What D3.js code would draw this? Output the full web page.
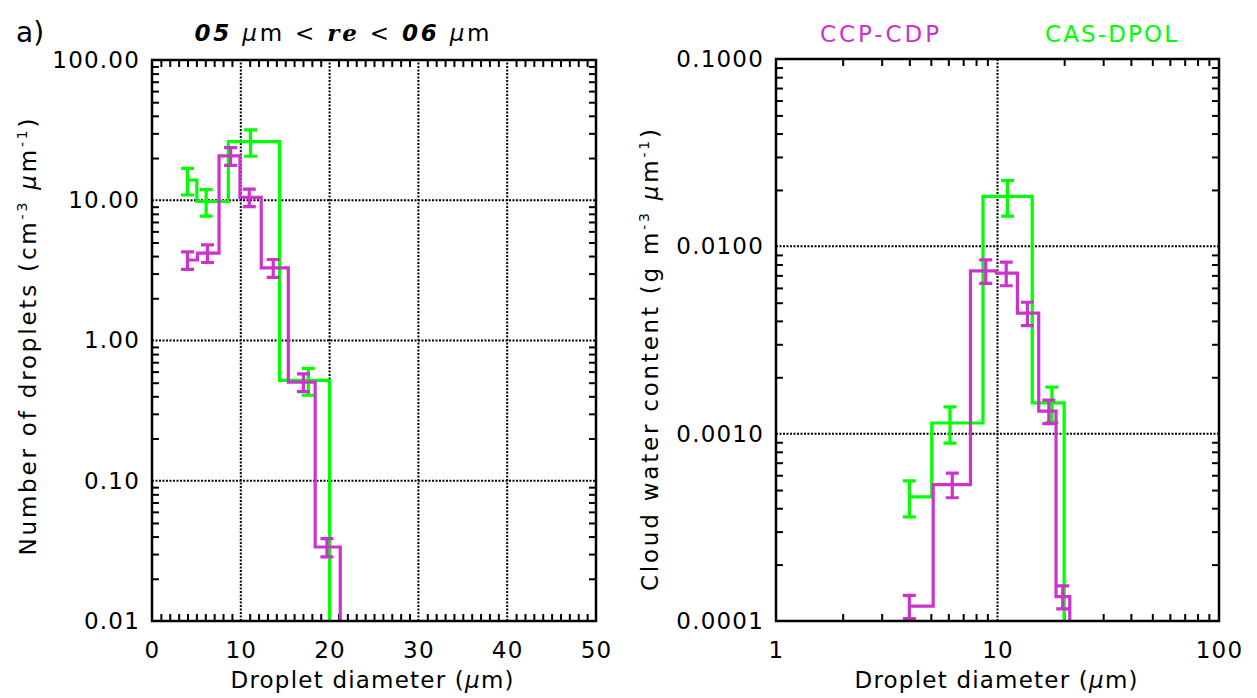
<!DOCTYPE html>
<html><head><meta charset="utf-8">
<script src="https://cdn.jsdelivr.net/npm/d3@7"></script>
<style>
html,body{margin:0;padding:0;background:#fff;}
text{font-family:"DejaVu Sans",sans-serif;fill:#000;}
</style></head>
<body><svg id="c" width="1257" height="698"></svg>
<script>
// ---------- data ----------
// CCP-CDP (magenta)
const cdpDiam = [4.0, 6.25, 8.85, 10.95, 13.65, 17.05, 19.7, 22.7];
const cdpN    = [3.75, 4.2, 20.7, 10.5, 3.3, 0.505, 0.0337, 0];
const cdpNerr = [0.54, 0.6, 3.0, 1.5, 0.48, 0.073, 0.005, 0];
const cdpLwc    = [1.2e-4, 5.35e-4, 7.4e-3, 7.2e-3, 4.4e-3, 1.32e-3, 1.35e-4, 0];
const cdpLwcErr = [0.17e-4, 0.8e-4, 1.06e-3, 1.04e-3, 0.63e-3, 0.19e-3, 0.19e-4, 0];
// CAS-DPOL (green)
const casDiam = [4.0, 6.1, 11.1, 17.6, 22.4];
const casN    = [13.9, 9.8, 26.2, 0.52, 0];
const casNerr = [3.0, 2.1, 5.6, 0.113, 0];
const casLwc    = [4.6e-4, 1.14e-3, 0.0185, 1.46e-3, 0];
const casLwcErr = [1.0e-4, 0.25e-3, 0.004, 0.31e-3, 0];

const leftYTicks = [0.01, 0.1, 1, 10, 100];
const leftXTicks = [0, 10, 20, 30, 40, 50];
const rightYTicks = [0.0001, 0.001, 0.01, 0.1];
const rightXTicks = [1, 10, 100];

const colCDP = "#cc33cc", colCAS = "#00ff00";

const svg = d3.select("#c");

function logMinor(lo, hi){
  const out=[];
  for(let e=Math.round(Math.log10(lo)); e<Math.round(Math.log10(hi)); e++){
    for(let k=2;k<=9;k++) out.push(k*Math.pow(10,e));
  }
  return out;
}

function panel(opt){
  const {x, y, id} = opt;
  const [x0,x1] = x.range(), [y0,y1] = y.range(); // y0 bottom
  const g = svg.append("g");
  g.append("clipPath").attr("id",id).append("rect")
    .attr("x",x0).attr("y",y1).attr("width",x1-x0).attr("height",y0-y1);
  // gridlines
  g.selectAll(".gx").data(opt.gridX).join("line")
    .attr("x1",d=>x(d)).attr("x2",d=>x(d)).attr("y1",y0).attr("y2",y1)
    .attr("stroke","#000").attr("stroke-width",2).attr("stroke-dasharray","2,1.5");
  g.selectAll(".gy").data(opt.gridY).join("line")
    .attr("y1",d=>y(d)).attr("y2",d=>y(d)).attr("x1",x0).attr("x2",x1)
    .attr("stroke","#000").attr("stroke-width",2).attr("stroke-dasharray","2,1.5");
  // minor ticks
  const tl = 7;
  const styleAx = a => { a.select(".domain").remove(); a.selectAll("line").attr("stroke","#000").attr("stroke-width",2); };
  g.append("g").attr("transform",`translate(0,${y0})`).call(d3.axisBottom(x).tickValues(opt.minorX).tickSize(-tl).tickFormat("")).call(styleAx);
  g.append("g").attr("transform",`translate(0,${y1})`).call(d3.axisTop(x).tickValues(opt.minorX).tickSize(-tl).tickFormat("")).call(styleAx);
  g.append("g").attr("transform",`translate(${x0},0)`).call(d3.axisLeft(y).tickValues(opt.minorY).tickSize(-tl).tickFormat("")).call(styleAx);
  g.append("g").attr("transform",`translate(${x1},0)`).call(d3.axisRight(y).tickValues(opt.minorY).tickSize(-tl).tickFormat("")).call(styleAx);
  // labels
  const lab = a => { a.select(".domain").remove(); a.selectAll("line").remove();
    a.selectAll("text").attr("font-size",23).attr("font-family","DejaVu Sans").attr("letter-spacing",1.2); };
  g.append("g").attr("transform",`translate(0,${y0})`).call(d3.axisBottom(x).tickValues(opt.xTicks).tickSize(0).tickPadding(21).tickFormat(opt.xFmt)).call(lab);
  g.append("g").attr("transform",`translate(${x0-12},0)`).call(d3.axisLeft(y).tickValues(opt.yTicks).tickSize(0).tickPadding(0).tickFormat(opt.yFmt)).call(lab);
  // series
  const plot = g.append("g").attr("clip-path",`url(#${id})`);
  const yp = v => v>0 ? y(v) : y0+20;
  opt.series.forEach(s=>{
    const pts=[[x(s.d[0]), yp(s.v[0])]];
    for(let i=0;i<s.d.length-1;i++){
      const m=(s.d[i]+s.d[i+1])/2;
      pts.push([x(m),yp(s.v[i])],[x(m),yp(s.v[i+1])]);
    }
    pts.push([x(s.d[s.d.length-1]), yp(s.v[s.v.length-1])]);
    plot.append("path").attr("d",d3.line()(pts)).attr("fill","none")
      .attr("stroke",s.c).attr("stroke-width",3.2).attr("stroke-linejoin","miter");
    const eb = s.d.map((d,i)=>({d,v:s.v[i],e:s.e[i]})).filter(o=>o.v>0);
    const cw=6.5;
    eb.forEach(o=>{
      const cx=x(o.d), ya=y(o.v+o.e), yb=y(o.v-o.e);
      plot.append("path").attr("d",`M${cx},${ya}V${yb}M${cx-cw},${ya}H${cx+cw}M${cx-cw},${yb}H${cx+cw}`)
        .attr("fill","none").attr("stroke",s.c).attr("stroke-width",3.2);
    });
  });
  // frame
  g.append("rect").attr("x",x0).attr("y",y1).attr("width",x1-x0).attr("height",y0-y1)
    .attr("fill","none").attr("stroke","#000").attr("stroke-width",2.5);
  return g;
}

// Left panel
const xL = d3.scaleLinear().domain([0,50]).range([152,596]);
const yL = d3.scaleLog().domain([0.01,100]).range([621,60]);
const minorXL = d3.range(1,50).filter(d=>d%10!==0);
panel({id:"clipL", x:xL, y:yL, gridX:[10,20,30,40], gridY:[0.1,1,10],
  minorX:minorXL, minorY:logMinor(0.01,100), xTicks:leftXTicks, yTicks:leftYTicks,
  xFmt:d3.format("d"), yFmt:d3.format(".2f"),
  series:[{d:casDiam,v:casN,e:casNerr,c:colCAS},{d:cdpDiam,v:cdpN,e:cdpNerr,c:colCDP}]});

// Right panel
const xR = d3.scaleLog().domain([1,100]).range([776,1219]);
const yR = d3.scaleLog().domain([0.0001,0.1]).range([621,59]);
panel({id:"clipR", x:xR, y:yR, gridX:[10], gridY:[0.001,0.01],
  minorX:logMinor(1,100), minorY:logMinor(0.0001,0.1), xTicks:rightXTicks, yTicks:rightYTicks,
  xFmt:d3.format("d"), yFmt:d3.format(".4f"),
  series:[{d:casDiam,v:casLwc,e:casLwcErr,c:colCAS},{d:cdpDiam,v:cdpLwc,e:cdpLwcErr,c:colCDP}]});

// Axis titles
svg.append("text").attr("x",372).attr("y",688).attr("text-anchor","middle").attr("font-size",23)
  .attr("textLength",283).attr("lengthAdjust","spacing")
  .html('Droplet diameter (<tspan font-style="italic">μ</tspan>m)');
svg.append("text").attr("x",996).attr("y",688).attr("text-anchor","middle").attr("font-size",23)
  .attr("textLength",283).attr("lengthAdjust","spacing")
  .html('Droplet diameter (<tspan font-style="italic">μ</tspan>m)');
svg.append("text").attr("transform","translate(36,337) rotate(-90)").attr("text-anchor","middle").attr("font-size",23)
  .attr("textLength",437).attr("lengthAdjust","spacing")
  .html('Number of droplets (cm<tspan dy="-9" font-size="14">-3</tspan><tspan dy="9"> </tspan><tspan font-style="italic">μ</tspan>m<tspan dy="-9" font-size="14">-1</tspan><tspan dy="9">)</tspan>');
svg.append("text").attr("transform","translate(658,360) rotate(-90)").attr("text-anchor","middle").attr("font-size",23)
  .attr("textLength",462).attr("lengthAdjust","spacing")
  .html('Cloud water content (g m<tspan dy="-9" font-size="14">-3</tspan><tspan dy="9"> </tspan><tspan font-style="italic">μ</tspan>m<tspan dy="-9" font-size="14">-1</tspan><tspan dy="9">)</tspan>');

// Title and panel label
svg.append("text").attr("x",16).attr("y",42).attr("font-size",28).text("a)");
svg.append("text").attr("x",342).attr("y",41).attr("text-anchor","middle").attr("font-size",23)
  .attr("textLength",295).attr("lengthAdjust","spacing")
  .html('<tspan font-weight="bold" font-style="italic">05</tspan> <tspan font-style="italic">μ</tspan>m &lt; <tspan font-weight="bold" font-style="italic" font-family="DejaVu Serif">re</tspan> &lt; <tspan font-weight="bold" font-style="italic">06</tspan> <tspan font-style="italic">μ</tspan>m');

// Legend
svg.append("text").attr("x",820).attr("y",42).attr("font-size",23).style("fill",colCDP)
  .attr("textLength",119).attr("lengthAdjust","spacing").text("CCP-CDP");
svg.append("text").attr("x",1045).attr("y",42).attr("font-size",23).style("fill",colCAS)
  .attr("textLength",132).attr("lengthAdjust","spacing").text("CAS-DPOL");
</script></body></html>
